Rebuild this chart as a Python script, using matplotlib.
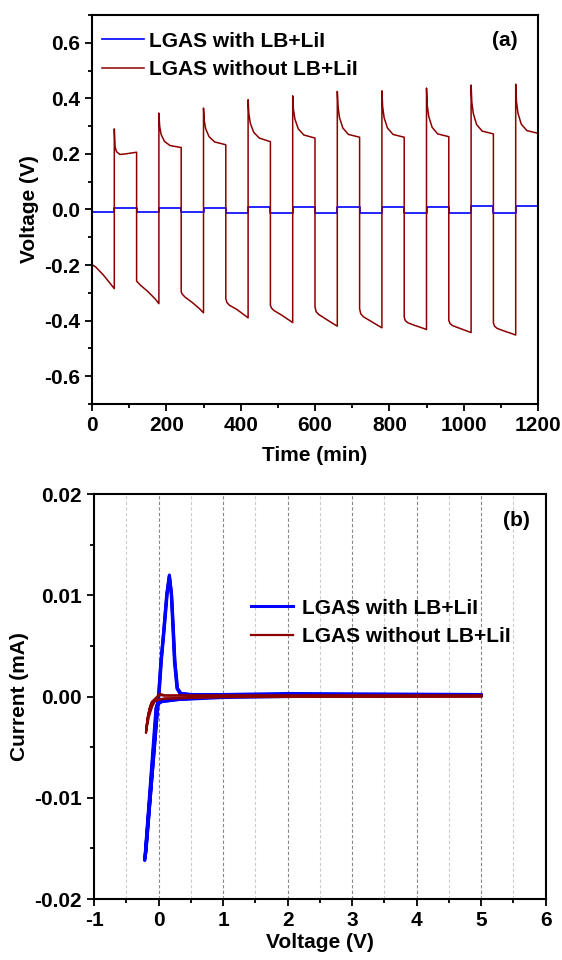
import numpy as np
import matplotlib.pyplot as plt
from matplotlib.ticker import MultipleLocator, FormatStrFormatter

plt.rcParams['font.family'] = ['Liberation Sans', 'DejaVu Sans']
plt.rcParams['font.weight'] = 'bold'
plt.rcParams['axes.unicode_minus'] = False

###Panel (a): polarization of symmetric cells, 60 min per half cycle###
half_period = 60
neg_starts = [0, 120, 240, 360, 480, 600, 720, 840, 960, 1080]
pos_starts = [60, 180, 300, 420, 540, 660, 780, 900, 1020, 1140]

neg_offsets = [0, 3, 10, 30, 50, 60]
neg_volts = [
    [-0.200, -0.201, -0.207, -0.235, -0.268, -0.285],
    [-0.258, -0.262, -0.272, -0.295, -0.322, -0.339],
    [-0.297, -0.305, -0.315, -0.335, -0.358, -0.372],
    [-0.321, -0.335, -0.345, -0.360, -0.380, -0.390],
    [-0.345, -0.355, -0.364, -0.380, -0.398, -0.407],
    [-0.351, -0.368, -0.378, -0.395, -0.412, -0.420],
    [-0.357, -0.375, -0.386, -0.402, -0.418, -0.426],
    [-0.387, -0.400, -0.408, -0.418, -0.427, -0.432],
    [-0.399, -0.410, -0.418, -0.428, -0.438, -0.443],
    [-0.408, -0.420, -0.428, -0.438, -0.447, -0.452],
]

pos_offsets = [0, 2, 6, 15, 30, 60]
pos_volts = [
    [0.290, 0.225, 0.208, 0.198, 0.200, 0.206],
    [0.347, 0.300, 0.270, 0.245, 0.230, 0.223],
    [0.365, 0.320, 0.290, 0.262, 0.243, 0.233],
    [0.395, 0.345, 0.310, 0.278, 0.257, 0.244],
    [0.409, 0.360, 0.325, 0.290, 0.268, 0.257],
    [0.425, 0.370, 0.330, 0.293, 0.270, 0.260],
    [0.427, 0.370, 0.330, 0.293, 0.270, 0.260],
    [0.437, 0.375, 0.335, 0.296, 0.272, 0.262],
    [0.448, 0.385, 0.345, 0.305, 0.282, 0.272],
    [0.451, 0.390, 0.347, 0.307, 0.284, 0.274],
]

blue_neg = [-0.009, -0.010, -0.010, -0.011, -0.011, -0.012, -0.012, -0.013, -0.013, -0.014]
blue_pos = [0.005, 0.006, 0.007, 0.008, 0.008, 0.009, 0.010, 0.010, 0.011, 0.012]

###Panel (b): CV curves, voltage (V) / current (mA)###
blue_cv_v = [
    [5.0, 2.0, 1.0, 0.3, 0.05, 0.0, -0.03, -0.21, -0.19, -0.01, 0.005, 0.04, 0.083, 0.13, 0.168,
     0.20, 0.228, 0.25, 0.29, 0.34, 0.5, 1.0, 2.0, 5.0],
    [5.0, 2.0, 1.0, 0.3, 0.05, 0.0, -0.02, -0.20, -0.18, -0.005, 0.01, 0.045, 0.088, 0.135, 0.17,
     0.203, 0.232, 0.255, 0.295, 0.35, 0.5, 1.0, 2.0, 5.0],
    [5.0, 2.0, 1.0, 0.3, 0.05, 0.0, -0.04, -0.215, -0.2, -0.02, 0.0, 0.035, 0.078, 0.125, 0.165,
     0.197, 0.224, 0.245, 0.285, 0.33, 0.5, 1.0, 2.0, 5.0],
]
blue_cv_i = [
    [0.0001, 0.0001, 0.0, -0.0002, -0.0004, -0.0006, -0.0009, -0.0160, -0.0150, -0.0007, 0.0003,
     0.0036, 0.0066, 0.0102, 0.0120, 0.0102, 0.0066, 0.0036, 0.0008, 0.0003, 0.0002, 0.0002, 0.0003, 0.0002],
    [0.0001, 0.0001, 0.0, -0.0003, -0.0005, -0.0007, -0.0010, -0.0155, -0.0140, -0.0006, 0.0003,
     0.0036, 0.0066, 0.0102, 0.0118, 0.0100, 0.0064, 0.0034, 0.0008, 0.0003, 0.0002, 0.0001, 0.0002, 0.0001],
    [0.0001, 0.0000, -0.0001, -0.0003, -0.0005, -0.0007, -0.0011, -0.0162, -0.0152, -0.0008, 0.0002,
     0.0034, 0.0064, 0.0100, 0.0119, 0.0101, 0.0065, 0.0035, 0.0008, 0.0003, 0.0001, 0.0001, 0.0002, 0.0001],
]
red_cv_v = [
    [5.0, 1.0, 0.1, 0.0, -0.08, -0.12, -0.16, -0.185, -0.195, -0.19, -0.17, -0.14, -0.11, -0.06,
     -0.02, 0.02, 0.05, 0.1, 0.5, 5.0],
    [5.0, 1.0, 0.1, 0.0, -0.06, -0.10, -0.15, -0.18, -0.19, -0.185, -0.165, -0.135, -0.10, -0.05,
     -0.01, 0.025, 0.06, 0.1, 0.5, 5.0],
]
red_cv_i = [
    [0.0, -0.00005, -0.0002, -0.0003, -0.0005, -0.0009, -0.0018, -0.0028, -0.0036, -0.0033, -0.0022,
     -0.0012, -0.0006, -0.0003, 0.0, 0.0003, 0.0002, 0.0001, 0.0001, 0.0001],
    [0.0, -0.00005, -0.0002, -0.0003, -0.0005, -0.0010, -0.0020, -0.0030, -0.0034, -0.0031, -0.0020,
     -0.0011, -0.0005, -0.0002, 0.0, 0.0002, 0.0001, 0.0001, 0.0001, 0.0001],
]

red = '#8b0000'
blue = '#0000ff'

###Build the time series from half cycles###
t_red, v_red, t_blue, v_blue = [], [], [], []
for k in range(len(neg_starts)):
    for off, v in zip(neg_offsets, neg_volts[k]):
        t_red.append(neg_starts[k] + off)
        v_red.append(v)
    for off, v in zip(pos_offsets, pos_volts[k]):
        t_red.append(pos_starts[k] + off)
        v_red.append(v)
    t_blue += [neg_starts[k], neg_starts[k] + half_period, pos_starts[k], pos_starts[k] + half_period]
    v_blue += [blue_neg[k], blue_neg[k], blue_pos[k], blue_pos[k]]

fig = plt.figure(figsize=(5.62, 9.6), dpi=100)
ax1 = fig.add_axes([0.1637, 0.5792, 0.7936, 0.4052])
ax2 = fig.add_axes([0.1673, 0.0635, 0.8037, 0.4219])

ax1.plot(t_blue, v_blue, color=blue, lw=1.2, label='LGAS with LB+LiI')
ax1.plot(t_red, v_red, color=red, lw=1.1, label='LGAS without LB+LiI')
ax1.set_xlim(0, 1200)
ax1.set_ylim(-0.7, 0.7)
ax1.xaxis.set_major_locator(MultipleLocator(200))
ax1.xaxis.set_minor_locator(MultipleLocator(100))
ax1.yaxis.set_major_locator(MultipleLocator(0.2))
ax1.yaxis.set_minor_locator(MultipleLocator(0.1))
ax1.yaxis.set_major_formatter(FormatStrFormatter('%.1f'))
ax1.set_xlabel('Time (min)', fontsize=15, fontweight='bold', labelpad=8)
ax1.set_ylabel('Voltage (V)', fontsize=15, fontweight='bold', labelpad=4)
ax1.text(0.955, 0.935, '(a)', transform=ax1.transAxes, ha='right', va='center',
         fontsize=15, fontweight='bold')
ax1.legend(loc='upper left', bbox_to_anchor=(-0.01, 0.995), frameon=False, fontsize=15,
           handlelength=2.0, handletextpad=0.25, labelspacing=0.45, borderaxespad=0.3)

for ml in range(-1, 12):
    x = ml * 0.5
    if x <= -1 or x >= 6:
        continue
    col = '#888888' if ml % 2 == 0 else '#cccccc'
    ax2.axvline(x, color=col, lw=0.8, ls=(0, (3, 2)), zorder=0)

for k in range(len(blue_cv_v)):
    ax2.plot(blue_cv_v[k], blue_cv_i[k], color=blue, lw=2.2,
             label='LGAS with LB+LiI' if k == 0 else None)
for k in range(len(red_cv_v)):
    ax2.plot(red_cv_v[k], red_cv_i[k], color=red, lw=1.6,
             label='LGAS without LB+LiI' if k == 0 else None)
ax2.set_xlim(-1, 6)
ax2.set_ylim(-0.02, 0.02)
ax2.xaxis.set_major_locator(MultipleLocator(1))
ax2.xaxis.set_minor_locator(MultipleLocator(0.5))
ax2.yaxis.set_major_locator(MultipleLocator(0.01))
ax2.yaxis.set_minor_locator(MultipleLocator(0.005))
ax2.yaxis.set_major_formatter(FormatStrFormatter('%.2f'))
ax2.set_xlabel('Voltage (V)', fontsize=15, fontweight='bold', labelpad=2)
ax2.set_ylabel('Current (mA)', fontsize=15, fontweight='bold', labelpad=4)
ax2.text(0.965, 0.935, '(b)', transform=ax2.transAxes, ha='right', va='center',
         fontsize=15, fontweight='bold')
ax2.legend(loc='upper left', bbox_to_anchor=(0.33, 0.762), frameon=False, fontsize=15,
           handlelength=2.0, handletextpad=0.45, labelspacing=0.45, borderaxespad=0.0)

for ax in (ax1, ax2):
    for s in ax.spines.values():
        s.set_linewidth(1.5)
    ax.tick_params(which='both', direction='out', top=False, right=False, width=1.3)
    ax.tick_params(which='major', length=5, labelsize=15)
    ax.tick_params(which='minor', length=3)
    for lab in ax.get_xticklabels() + ax.get_yticklabels():
        lab.set_fontweight('bold')

fig.savefig('out.png', dpi=100)
